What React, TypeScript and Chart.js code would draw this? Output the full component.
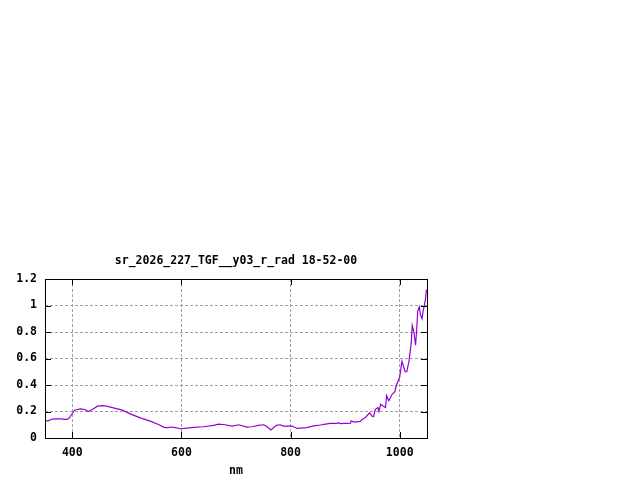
import { useEffect, useRef } from "react"
import { Chart, registerables } from "chart.js"

Chart.register(...registerables)

const title = "sr_2026_227_TGF__y03_r_rad 18-52-00"
const xLabel = "nm"

// wavelength (nm) and radiance
const wavelengths = [
  350, 356, 363, 372, 379, 386, 390, 394, 400, 404, 409, 415, 423, 429, 437, 446,
  455, 463, 477, 492, 507, 526, 544, 559, 568, 575, 581, 589, 598, 610, 622, 640,
  659, 668, 680, 693, 705, 720, 729, 741, 751, 757, 764, 774, 781, 787, 803, 812,
  830, 842, 855, 864, 873, 885, 888, 891, 910, 911, 916, 928, 931, 937, 945, 949,
  952, 955, 960, 962, 965, 970, 974, 976, 980, 986, 991, 994, 1000, 1004, 1007,
  1010, 1013, 1017, 1021, 1023, 1026, 1029, 1031, 1033, 1036, 1038, 1041, 1043,
  1045, 1047, 1049,
]
const radiance = [
  0.13, 0.13, 0.143, 0.145, 0.145, 0.14, 0.14, 0.148, 0.185, 0.21, 0.215, 0.22,
  0.215, 0.2, 0.215, 0.24, 0.245, 0.24, 0.225, 0.21, 0.18, 0.15, 0.125, 0.1, 0.08,
  0.078, 0.083, 0.078, 0.07, 0.075, 0.08, 0.085, 0.095, 0.105, 0.1, 0.09, 0.1,
  0.082, 0.085, 0.095, 0.1, 0.085, 0.06, 0.095, 0.1, 0.09, 0.09, 0.072, 0.078,
  0.092, 0.098, 0.105, 0.11, 0.11, 0.115, 0.108, 0.112, 0.13, 0.12, 0.125, 0.14,
  0.155, 0.19, 0.165, 0.16, 0.215, 0.23, 0.2, 0.255, 0.24, 0.23, 0.32, 0.28, 0.33,
  0.35, 0.4, 0.46, 0.58, 0.54, 0.5, 0.5, 0.58, 0.71, 0.85, 0.8, 0.7, 0.81, 0.96,
  0.99, 0.93, 0.9, 0.96, 1.0, 1.04, 1.12,
]

const xTicks = [400, 600, 800, 1000]
const yTicks = [0, 0.2, 0.4, 0.6, 0.8, 1, 1.2]

const FONT = "'DejaVu Sans Mono', 'Liberation Mono', monospace"

// gnuplot-style frame: closed border, inward ticks on all four sides, title and axis label
const framePlugin = {
  id: "gnuplotFrame",
  afterDatasetsDraw(chart: Chart) {
    const { ctx, chartArea } = chart
    const { left, right, top, bottom } = chartArea
    const xs = chart.scales.x
    const ys = chart.scales.y
    ctx.save()
    ctx.strokeStyle = "#000"
    ctx.lineWidth = 1
    ctx.beginPath()
    const tl = 6
    for (const v of xTicks) {
      const px = Math.round(xs.getPixelForValue(v)) + 0.5
      ctx.moveTo(px, bottom)
      ctx.lineTo(px, bottom - tl)
      ctx.moveTo(px, top)
      ctx.lineTo(px, top + tl)
    }
    for (const v of yTicks) {
      const py = Math.round(ys.getPixelForValue(v)) + 0.5
      ctx.moveTo(left, py)
      ctx.lineTo(left + tl, py)
      ctx.moveTo(right, py)
      ctx.lineTo(right - tl, py)
    }
    ctx.stroke()
    ctx.strokeRect(Math.round(left) + 0.5, Math.round(top) + 0.5, Math.round(right - left), Math.round(bottom - top))

    ctx.fillStyle = "#000"
    ctx.font = `bold 11.5px ${FONT}`
    ctx.textAlign = "center"
    ctx.textBaseline = "middle"
    const cx = (left + right) / 2
    ctx.fillText(title, cx, 261)
    ctx.fillText(xLabel, cx, 471)
    ctx.restore()
  },
}

export default function App() {
  const canvasRef = useRef<HTMLCanvasElement>(null)
  const chartRef = useRef<Chart | null>(null)

  useEffect(() => {
    document.body.style.margin = "0"
    if (!canvasRef.current) return
    if (chartRef.current) chartRef.current.destroy()

    chartRef.current = new Chart(canvasRef.current, {
      type: "line",
      data: {
        datasets: [
          {
            data: wavelengths.map((w, i) => ({ x: w, y: radiance[i] })),
            borderColor: "#9400d3",
            borderWidth: 1.2,
            pointRadius: 0,
            tension: 0,
            fill: false,
          },
        ],
      },
      options: {
        responsive: false,
        animation: false,
        devicePixelRatio: 1,
        layout: { padding: { top: 279, right: 213, left: 0, bottom: 0 } },
        plugins: {
          legend: { display: false },
          tooltip: { enabled: false },
          title: { display: false },
        },
        scales: {
          x: {
            type: "linear",
            min: 350,
            max: 1050,
            afterFit: (s: any) => {
              s.height = 42
            },
            afterBuildTicks: (s: any) => {
              s.ticks = xTicks.map((v) => ({ value: v }))
            },
            border: { display: false, dash: [3, 2] },
            grid: {
              color: "#a0a0a0",
              lineWidth: 1,
              drawTicks: false,
            },
            ticks: {
              color: "#000",
              font: { family: FONT, size: 11.5, weight: "bold" },
              padding: 8,
              maxRotation: 0,
              callback: (v: any) => String(v),
            },
          },
          y: {
            type: "linear",
            min: 0,
            max: 1.2,
            afterFit: (s: any) => {
              s.width = 45
            },
            afterBuildTicks: (s: any) => {
              s.ticks = yTicks.map((v) => ({ value: v }))
            },
            border: { display: false, dash: [3, 2] },
            grid: {
              color: "#a0a0a0",
              lineWidth: 1,
              drawTicks: false,
            },
            ticks: {
              color: "#000",
              font: { family: FONT, size: 11.5, weight: "bold" },
              padding: 8,
              callback: (v: any) => String(v),
            },
          },
        },
      },
      plugins: [framePlugin],
    })

    return () => {
      if (chartRef.current) {
        chartRef.current.destroy()
        chartRef.current = null
      }
    }
  }, [])

  return (
    <div style={{ width: 640, height: 480 }}>
      <canvas ref={canvasRef} width={640} height={480} />
    </div>
  )
}
